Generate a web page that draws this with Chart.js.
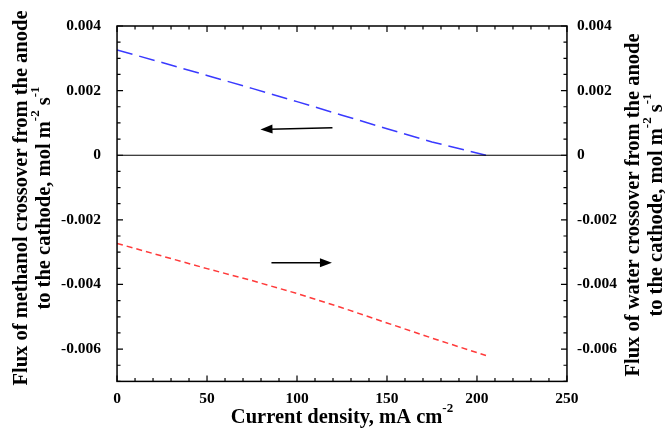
<!DOCTYPE html>
<html>
<head>
<meta charset="utf-8">
<script src="https://cdn.jsdelivr.net/npm/chart.js@4"></script>
<style>
  body { margin: 0; background: #fff; }
  canvas { display: block; }
</style>
</head>
<body>
<canvas id="fluxChart" width="665" height="431"></canvas>
<script>
// valores
const corriente = [0, 25, 50, 75, 100, 125, 150, 175, 205];
const fluxMetanol = [0.00326, 0.00287, 0.00247, 0.00207, 0.00166, 0.00124, 0.00082, 0.00041, 0];
const fluxAgua = [-0.00273, -0.00312, -0.00351, -0.00388, -0.00428, -0.00472, -0.00519, -0.00566, -0.0062];

const xTicks = [0, 50, 100, 150, 200, 250];
const yTicks = [0.004, 0.002, 0, -0.002, -0.004, -0.006];
const yTickLabels = ['0.004', '0.002', '0', '-0.002', '-0.004', '-0.006'];

// flechas: [x inicio, y inicio, x punta, y punta]
const flechas = [
  [119.7, 0.00085, 79.7, 0.0008],
  [85.8, -0.00333, 119.4, -0.00333]
];

const fuente = '"Liberation Serif", "Times New Roman", serif';

const puntosMetanol = corriente.map((x, i) => ({ x: x, y: fluxMetanol[i] }));
const puntosAgua = corriente.map((x, i) => ({ x: x, y: fluxAgua[i] }));

function textoConSup(ctx, partes, cx, cy) {
  // partes: [texto, esSup]
  let total = 0;
  for (const p of partes) {
    ctx.font = p[1] ? 'bold 13px ' + fuente : 'bold 20.5px ' + fuente;
    total += ctx.measureText(p[0]).width;
  }
  let x = cx - total / 2;
  for (const p of partes) {
    ctx.font = p[1] ? 'bold 13px ' + fuente : 'bold 20.5px ' + fuente;
    ctx.fillText(p[0], x, p[1] ? cy - 9 : cy);
    x += ctx.measureText(p[0]).width;
  }
}

const decoracion = {
  id: 'decoracion',
  afterDraw(chart) {
    const ctx = chart.ctx;
    const a = chart.chartArea;
    const xs = chart.scales.x;
    const ys = chart.scales.y;
    ctx.save();
    ctx.strokeStyle = '#000';
    ctx.fillStyle = '#000';

    // linea del cero
    ctx.lineWidth = 1.2;
    const y0 = ys.getPixelForValue(0);
    ctx.beginPath();
    ctx.moveTo(a.left, y0);
    ctx.lineTo(a.right, y0);
    ctx.stroke();

    // ticks hacia adentro
    ctx.lineWidth = 1.2;
    ctx.beginPath();
    for (let v = 0; v <= 250; v += 10) {
      const px = xs.getPixelForValue(v);
      const len = v % 50 === 0 ? 6 : 3.5;
      ctx.moveTo(px, a.bottom); ctx.lineTo(px, a.bottom - len);
      ctx.moveTo(px, a.top); ctx.lineTo(px, a.top + len);
    }
    for (let k = -14; k <= 8; k++) {
      const py = ys.getPixelForValue(k * 0.0005);
      const len = k % 4 === 0 ? 6 : 3.5;
      ctx.moveTo(a.left, py); ctx.lineTo(a.left + len, py);
      ctx.moveTo(a.right, py); ctx.lineTo(a.right - len, py);
    }
    ctx.stroke();

    // marco
    ctx.lineWidth = 1.5;
    ctx.strokeRect(a.left, a.top, a.right - a.left, a.bottom - a.top);

    // flechas
    ctx.lineWidth = 1.5;
    for (const f of flechas) {
      const x1 = xs.getPixelForValue(f[0]), y1 = ys.getPixelForValue(f[1]);
      const x2 = xs.getPixelForValue(f[2]), y2 = ys.getPixelForValue(f[3]);
      const ang = Math.atan2(y2 - y1, x2 - x1);
      ctx.beginPath();
      ctx.moveTo(x1, y1);
      ctx.lineTo(x2 - 9 * Math.cos(ang), y2 - 9 * Math.sin(ang));
      ctx.stroke();
      ctx.beginPath();
      ctx.moveTo(x2, y2);
      ctx.lineTo(x2 - 12 * Math.cos(ang) + 4.5 * Math.sin(ang), y2 - 12 * Math.sin(ang) - 4.5 * Math.cos(ang));
      ctx.lineTo(x2 - 12 * Math.cos(ang) - 4.5 * Math.sin(ang), y2 - 12 * Math.sin(ang) + 4.5 * Math.cos(ang));
      ctx.closePath();
      ctx.fill();
    }

    // titulos de ejes
    ctx.textBaseline = 'middle';
    ctx.textAlign = 'left';
    textoConSup(ctx, [['Current density, mA cm', false], ['-2', true]], (a.left + a.right) / 2, 418);

    const cy = 198;
    ctx.save();
    ctx.translate(22, cy);
    ctx.rotate(-Math.PI / 2);
    textoConSup(ctx, [['Flux of methanol crossover from the anode', false]], 0, 0);
    ctx.restore();
    ctx.save();
    ctx.translate(45, cy);
    ctx.rotate(-Math.PI / 2);
    textoConSup(ctx, [['to the cathode, mol m', false], ['-2', true], [' s', false], ['-1', true]], 0, 0);
    ctx.restore();

    ctx.save();
    ctx.translate(634, 205);
    ctx.rotate(-Math.PI / 2);
    textoConSup(ctx, [['Flux of water crossover from the anode', false]], 0, 0);
    ctx.restore();
    ctx.save();
    ctx.translate(657, 205);
    ctx.rotate(-Math.PI / 2);
    textoConSup(ctx, [['to the cathode, mol m', false], ['-2', true], [' s', false], ['-1', true]], 0, 0);
    ctx.restore();

    ctx.restore();
  }
};

const fChart = document.getElementById('fluxChart').getContext('2d');
const fluxChart = new Chart(fChart, {
  type: 'line',
  data: {
    datasets: [
      {
        label: 'Methanol',
        data: puntosMetanol,
        borderColor: '#3a3aff',
        borderWidth: 1.5,
        borderDash: [16, 7],
        pointRadius: 0,
        tension: 0,
        yAxisID: 'y'
      },
      {
        label: 'Water',
        data: puntosAgua,
        borderColor: '#ff3a3a',
        borderWidth: 1.5,
        borderDash: [6, 4],
        pointRadius: 0,
        tension: 0,
        yAxisID: 'y2'
      }
    ]
  },
  options: {
    responsive: false,
    animation: false,
    layout: { padding: { left: 45, right: 38, top: 26, bottom: 15 } },
    plugins: { legend: { display: false }, tooltip: { enabled: false } },
    scales: {
      x: {
        type: 'linear',
        min: 0,
        max: 250,
        afterBuildTicks: s => { s.ticks = xTicks.map(v => ({ value: v })); },
        grid: { display: false, drawTicks: false },
        border: { display: false },
        ticks: { color: '#000', padding: 8, maxRotation: 0, font: { family: fuente, size: 15.5, weight: 'bold' } }
      },
      y: {
        position: 'left',
        min: -0.007,
        max: 0.004,
        afterBuildTicks: s => { s.ticks = yTicks.map(v => ({ value: v })); },
        grid: { display: false, drawTicks: false },
        border: { display: false },
        ticks: {
          color: '#000', padding: 16,
          font: { family: fuente, size: 15.5, weight: 'bold' },
          callback: (v, i) => yTickLabels[i]
        }
      },
      y2: {
        position: 'right',
        min: -0.007,
        max: 0.004,
        afterBuildTicks: s => { s.ticks = yTicks.map(v => ({ value: v })); },
        grid: { display: false, drawTicks: false },
        border: { display: false },
        ticks: {
          color: '#000', padding: 10,
          font: { family: fuente, size: 15.5, weight: 'bold' },
          callback: (v, i) => yTickLabels[i]
        }
      }
    }
  },
  plugins: [decoracion]
});
</script>
</body>
</html>
